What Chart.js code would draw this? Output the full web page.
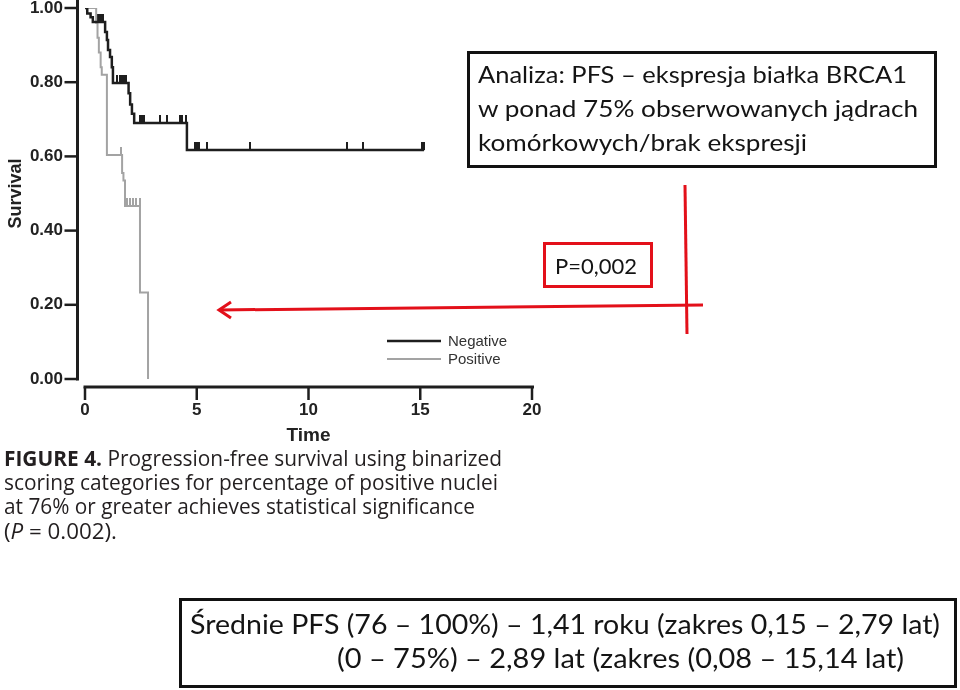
<!DOCTYPE html>
<html lang="pl">
<head>
<meta charset="UTF-8" />
<title>PFS – ekspresja BRCA1</title>
<style>
  body { margin: 0; background: #fff; }
  .wrap { position: relative; width: 960px; height: 690px; overflow: hidden; }
  .wrap canvas, .wrap svg { position: absolute; left: 0; top: 0; }
  svg { pointer-events: none; }
  .cal { font-family: Lato, "Open Sans", sans-serif; fill: #141414; }
  .cap { font-family: "Open Sans", "Noto Sans", sans-serif; fill: #231f20; font-size: 21px; }
</style>
</head>
<body>
<div class="wrap">
  <canvas id="km" width="960" height="690"></canvas>
  <svg width="960" height="690" viewBox="0 0 960 690">
    <!-- red annotation -->
    <g fill="none" stroke="#e3101a" stroke-width="3">
      <line x1="685" y1="185" x2="687" y2="334" />
      <line x1="703" y1="305" x2="219" y2="310" />
      <polyline points="231,302 219,310 231,318" />
      <rect x="544.5" y="243.5" width="107" height="43" />
    </g>
    <text class="cal" x="555" y="274" font-size="21" textLength="82" lengthAdjust="spacingAndGlyphs">P=0,002</text>

    <!-- top right box -->
    <rect x="468.5" y="52.5" width="467" height="114" fill="none" stroke="#111" stroke-width="3" />
    <text class="cal" x="478" y="83" font-size="23" textLength="429" lengthAdjust="spacingAndGlyphs">Analiza: PFS – ekspresja białka BRCA1</text>
    <text class="cal" x="478" y="117" font-size="23" textLength="440" lengthAdjust="spacingAndGlyphs">w ponad 75% obserwowanych jądrach</text>
    <text class="cal" x="478" y="151" font-size="23" textLength="329" lengthAdjust="spacingAndGlyphs">komórkowych/brak ekspresji</text>

    <!-- figure caption -->
    <text class="cap" x="4" y="466" textLength="498" lengthAdjust="spacingAndGlyphs"><tspan font-weight="bold">FIGURE 4.</tspan>  Progression-free survival using binarized</text>
    <text class="cap" x="4" y="490" textLength="494" lengthAdjust="spacingAndGlyphs">scoring categories for percentage of positive nuclei</text>
    <text class="cap" x="4" y="514" textLength="471" lengthAdjust="spacingAndGlyphs">at 76% or greater achieves statistical significance</text>
    <text class="cap" x="4" y="539" textLength="113" lengthAdjust="spacingAndGlyphs">(<tspan font-style="italic">P</tspan> = 0.002).</text>

    <!-- bottom box -->
    <rect x="180.5" y="599.5" width="775" height="87" fill="none" stroke="#111" stroke-width="3" />
    <text class="cal" x="190" y="634" font-size="27" textLength="750" lengthAdjust="spacingAndGlyphs">Średnie PFS (76 – 100%) – 1,41 roku (zakres 0,15 – 2,79 lat)</text>
    <text class="cal" x="337" y="668" font-size="27" textLength="567" lengthAdjust="spacingAndGlyphs">(0 – 75%) – 2,89 lat (zakres (0,08 – 15,14 lat)</text>
  </svg>
</div>
<script src="https://cdn.jsdelivr.net/npm/chart.js"></script>
<script>
  const xTicks = [0, 5, 10, 15, 20];
  const yTicks = [0, 0.2, 0.4, 0.6, 0.8, 1.0];

  // Negative (black): event times and survival after each step
  const negTimes = [0, 0.1, 0.25, 0.35, 0.9, 0.98, 1.03, 1.12, 1.2, 1.25, 1.95, 2.02, 2.1, 2.2, 4.56, 15.17];
  const negSurv = [1, 0.985, 0.975, 0.962, 0.935, 0.914, 0.887, 0.868, 0.84, 0.798, 0.77, 0.74, 0.715, 0.69, 0.617, 0.617];
  const negCensored = [0.6, 0.68, 0.75, 0.82, 1.45, 1.55, 1.65, 1.75, 1.85, 2.46, 2.55, 2.64, 3.36, 3.67,
    4.25, 4.34, 4.52, 4.92, 5.01, 5.1, 5.46, 7.38, 11.72, 12.44, 15.1, 15.17];

  // Positive (grey)
  const posTimes = [0, 0.5, 0.56, 0.62, 0.7, 0.75, 0.98, 1.66, 1.72, 1.79, 2.46, 2.82];
  const posSurv = [1, 0.96, 0.92, 0.88, 0.84, 0.82, 0.604, 0.555, 0.535, 0.466, 0.233, 0];
  const posCensored = [1.63, 1.88, 2.01, 2.15, 2.3, 2.45];

  const BLACK = "#1e1e1e";
  const GREY = "#a3a3a3";

  function survAt(times, surv, t) {
    let s = surv[0];
    for (let i = 0; i < times.length; i++) if (times[i] <= t) s = surv[i];
    return s;
  }

  // censor mark: small vertical tick standing on the curve
  function tickMark(color) {
    const c = document.createElement("canvas");
    c.width = 2;
    c.height = 16;
    const g = c.getContext("2d");
    g.fillStyle = color;
    g.fillRect(0, 0, 2, 8);
    return c;
  }

  const stepData = (times, surv) => times.map((t, i) => ({ x: t, y: surv[i] }));
  const censorData = (cens, times, surv) => cens.map((t) => ({ x: t, y: survAt(times, surv, t) }));

  const tickFont = { family: '"Liberation Sans", Arial, sans-serif', size: 17, weight: "bold", lineHeight: 1 };

  const axesPlugin = {
    id: "detachedAxes",
    afterDraw(chart) {
      const { ctx, chartArea: a, scales: { x, y } } = chart;
      ctx.save();
      ctx.strokeStyle = BLACK;
      // y axis
      const yx = a.left - 7.5;
      ctx.lineWidth = 3;
      ctx.beginPath();
      ctx.moveTo(yx, 0);
      ctx.lineTo(yx, y.getPixelForValue(0) + 1.5);
      ctx.stroke();
      ctx.lineWidth = 2.5;
      yTicks.forEach((v) => {
        const py = y.getPixelForValue(v);
        ctx.beginPath();
        ctx.moveTo(yx - 13, py);
        ctx.lineTo(yx, py);
        ctx.stroke();
      });
      // x axis
      const xy = a.bottom + 8;
      ctx.lineWidth = 3;
      ctx.beginPath();
      ctx.moveTo(x.getPixelForValue(0) - 1.5, xy);
      ctx.lineTo(x.getPixelForValue(20) + 2, xy);
      ctx.stroke();
      ctx.lineWidth = 2.5;
      xTicks.forEach((v) => {
        const px = x.getPixelForValue(v);
        ctx.beginPath();
        ctx.moveTo(px, xy);
        ctx.lineTo(px, xy + 13);
        ctx.stroke();
      });
      // legend
      const items = chart.data.datasets.filter((d) => d.showLine);
      ctx.font = '15px "Liberation Sans", Arial, sans-serif';
      ctx.textBaseline = "middle";
      items.forEach((d, i) => {
        const ly = 341 + i * 18;
        ctx.strokeStyle = d.borderColor;
        ctx.lineWidth = d.borderWidth;
        ctx.beginPath();
        ctx.moveTo(387, ly);
        ctx.lineTo(441, ly);
        ctx.stroke();
        ctx.fillStyle = "#333";
        ctx.fillText(d.label, 448, ly + 1);
      });
      ctx.restore();
    },
  };

  new Chart(document.getElementById("km"), {
    type: "scatter",
    data: {
      datasets: [
        {
          label: "Negative",
          data: stepData(negTimes, negSurv),
          showLine: true,
          stepped: true,
          borderColor: BLACK,
          borderWidth: 2.5,
          pointRadius: 0,
        },
        {
          label: "Positive",
          data: stepData(posTimes, posSurv),
          showLine: true,
          stepped: true,
          borderColor: GREY,
          borderWidth: 2,
          pointRadius: 0,
        },
        {
          label: "Negative censored",
          data: censorData(negCensored, negTimes, negSurv),
          showLine: false,
          pointStyle: tickMark(BLACK),
          pointRadius: 4,
        },
        {
          label: "Positive censored",
          data: censorData(posCensored, posTimes, posSurv),
          showLine: false,
          pointStyle: tickMark(GREY),
          pointRadius: 4,
        },
      ],
    },
    options: {
      responsive: false,
      animation: false,
      events: [],
      layout: { padding: { left: 0, top: 8, right: 428, bottom: 239 } },
      plugins: { legend: { display: false }, tooltip: { enabled: false } },
      scales: {
        x: {
          type: "linear",
          min: 0,
          max: 20,
          afterBuildTicks: (s) => { s.ticks = xTicks.map((v) => ({ value: v })); },
          afterFit: (s) => { s.height = 72; },
          grid: { display: false, drawTicks: false },
          border: { display: false },
          ticks: { padding: 23, color: "#222", font: tickFont },
          title: {
            display: true,
            text: "Time",
            color: "#222",
            font: { family: '"Liberation Sans", Arial, sans-serif', size: 19, weight: "bold" },
            padding: { top: 0, bottom: 4 },
          },
        },
        y: {
          min: 0,
          max: 1,
          afterBuildTicks: (s) => { s.ticks = yTicks.map((v) => ({ value: v })); },
          afterFit: (s) => {
            s.width = 85;
            s.paddingTop = 8;
            s.paddingBottom = 8;
          },
          grid: { display: false, drawTicks: false },
          border: { display: false },
          ticks: { padding: 22, color: "#222", font: tickFont, callback: (v) => Number(v).toFixed(2) },
          title: {
            display: true,
            text: "Survival",
            color: "#222",
            font: { family: '"Liberation Sans", Arial, sans-serif', size: 18, weight: "bold" },
            padding: { top: 5, bottom: 0 },
          },
        },
      },
    },
    plugins: [axesPlugin],
  });
</script>
</body>
</html>
